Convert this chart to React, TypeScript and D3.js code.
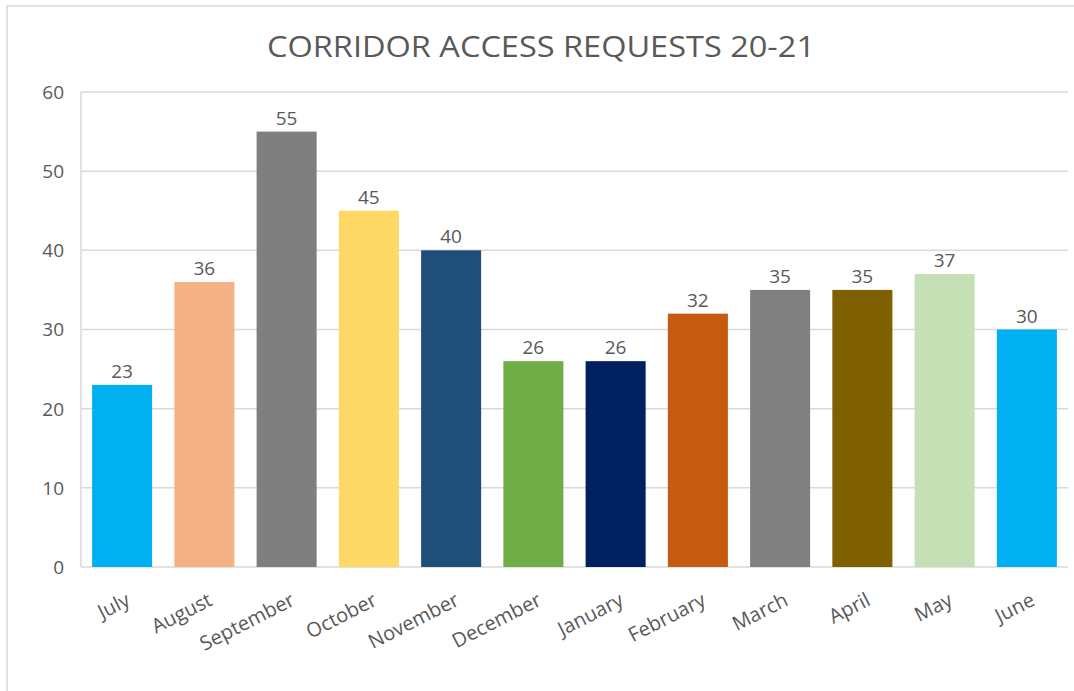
import React from "react";
import * as d3 from "d3";

const months = ["July","August","September","October","November","December","January","February","March","April","May","June"];
const requests = [23,36,55,45,40,26,26,32,35,35,37,30];
const colors = ["#00B0F0","#F4B183","#7F7F7F","#FFD966","#1F4E79","#70AD47","#002060","#C55A11","#808080","#7F6000","#C5E0B4","#00B0F0"];
const yTicks = [0,10,20,30,40,50,60];
const title = "CORRIDOR ACCESS REQUESTS 20-21";

export default function App() {
  const W = 1074, H = 691;
  const left = 81, right = 1068, top = 92, bottom = 567;
  const x = d3.scaleBand<string>().domain(months).range([left, right]).paddingInner(0.27).paddingOuter(0.135);
  const y = d3.scaleLinear().domain([0, 60]).range([bottom, top]);
  const font = "'Open Sans', 'Liberation Sans', sans-serif";
  return (
    <svg width={W} height={H} style={{ position: "absolute", left: 0, top: 0 }}>
      <rect x={0} y={0} width={W} height={H} fill="#fff" />
      <rect x={7} y={6} width={W + 10} height={H + 10} fill="#fff" stroke="#D9D9D9" strokeWidth={1.5} />
      <text x={541} y={57} textAnchor="middle" fontFamily={font} fontSize={29} fill="#595959" textLength={548} lengthAdjust="spacingAndGlyphs">{title}</text>
      {yTicks.map(t => (
        <g key={t}>
          <line x1={left} x2={right} y1={y(t)} y2={y(t)} stroke="#D9D9D9" strokeWidth={1.5} />
          <text x={64} y={y(t)} dy="0.36em" textAnchor="end" fontFamily={font} fontSize={19} fill="#595959">{t}</text>
        </g>
      ))}
      <line x1={left} x2={left} y1={top} y2={bottom} stroke="#D9D9D9" strokeWidth={1.5} />
      {months.map((m, i) => (
        <g key={m}>
          <rect x={x(m)} y={y(requests[i])} width={x.bandwidth()} height={bottom - y(requests[i])} fill={colors[i]} />
          <text x={x(m)! + x.bandwidth() / 2} y={y(requests[i]) - 7} textAnchor="middle" fontFamily={font} fontSize={19} fill="#595959">{requests[i]}</text>
          <text transform={`translate(${x(m)! + x.bandwidth() / 2 + 3},${bottom + 25}) rotate(-27)`} textAnchor="end" dy="0.7em" fontFamily={font} fontSize={20} fill="#595959">{m}</text>
        </g>
      ))}
    </svg>
  );
}
